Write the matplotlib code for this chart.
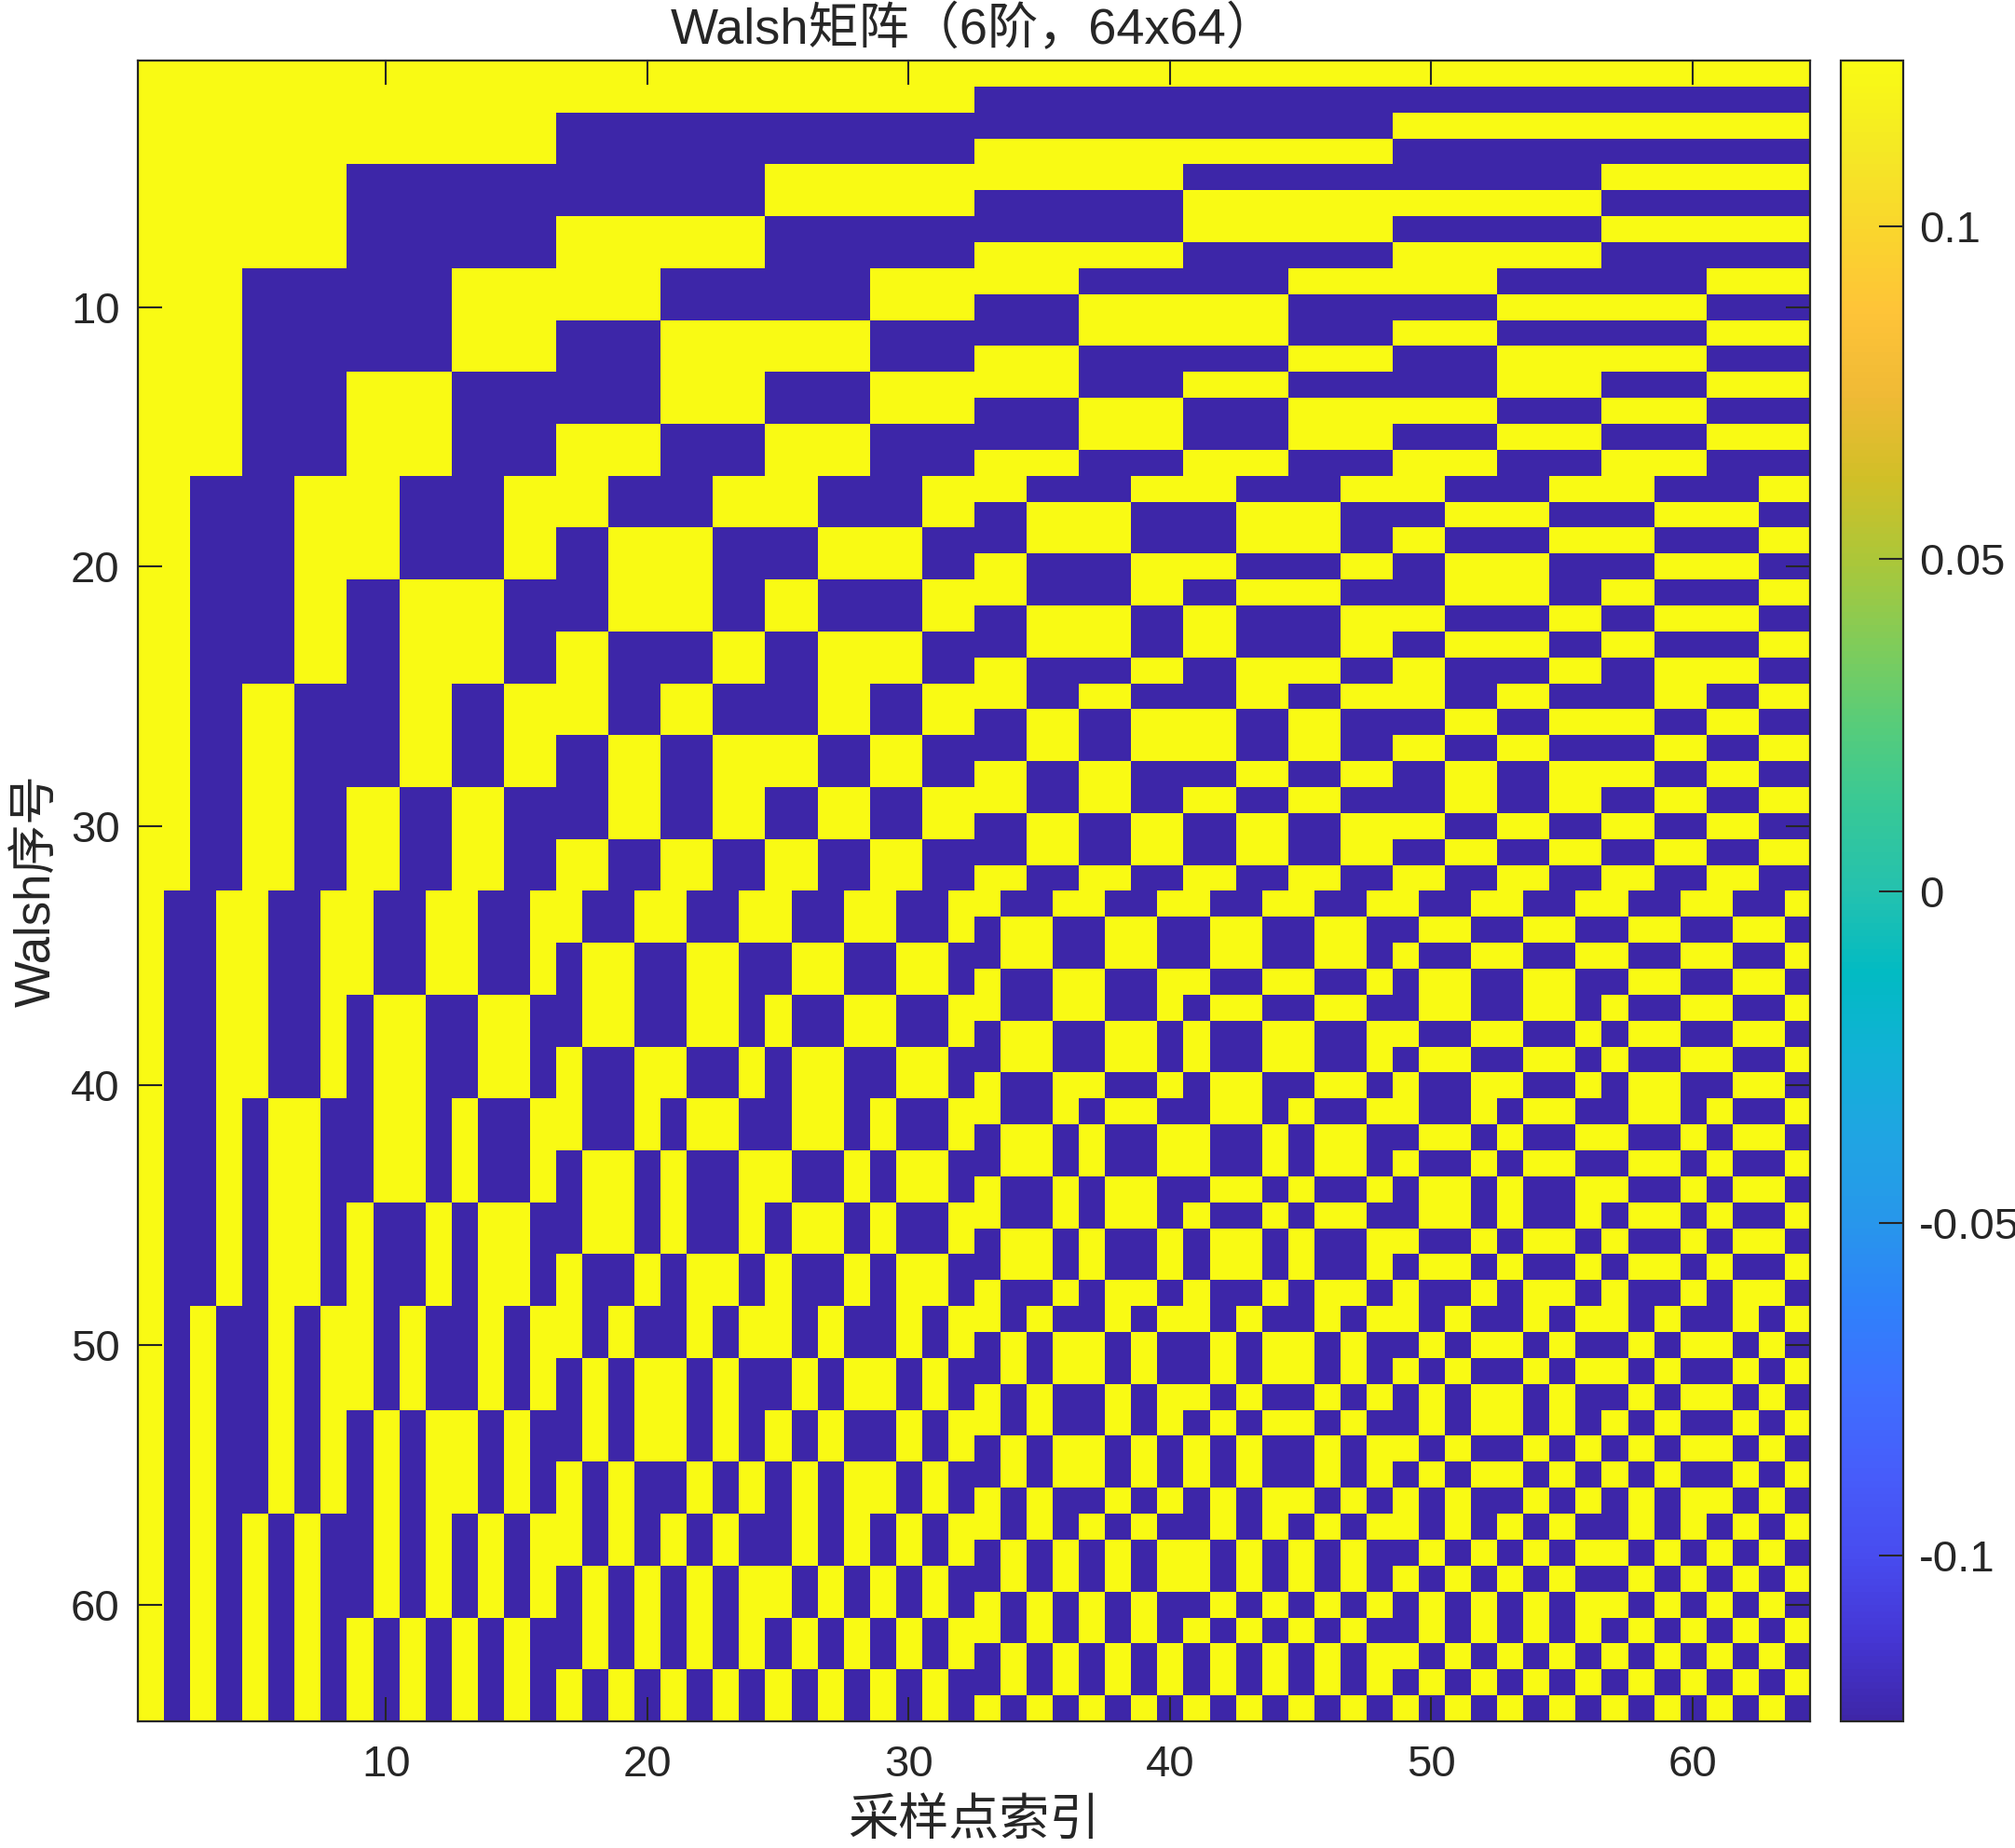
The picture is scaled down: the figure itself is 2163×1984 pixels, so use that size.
import numpy as np
import matplotlib
matplotlib.use('Agg')
import matplotlib.pyplot as plt
from matplotlib.colors import LinearSegmentedColormap

# --- data ---
order = 6                      # Walsh order -> 2**6 = 64 samples
n_points = 2 ** order
amplitude = 1 / np.sqrt(n_points)   # +-0.125
x_ticks = [10, 20, 30, 40, 50, 60]
y_ticks = [10, 20, 30, 40, 50, 60]
cbar_ticks = [-0.1, -0.05, 0, 0.05, 0.1]
cbar_labels = ['-0.1', '-0.05', '0', '0.05', '0.1']
title = 'Walsh矩阵（6阶，64x64）'
xlabel = '采样点索引'
ylabel = 'Walsh序号'

# MATLAB parula (subset of the 64-entry table)
parula_pts = [
    (0.2422, 0.1504, 0.6603), (0.2706, 0.2147, 0.8364), (0.2813, 0.3006, 0.9414),
    (0.2760, 0.3667, 0.9829), (0.2440, 0.4358, 0.9988), (0.1834, 0.5074, 0.9798),
    (0.1540, 0.5902, 0.9218), (0.1248, 0.6459, 0.8883), (0.0689, 0.6948, 0.8394),
    (0.0067, 0.7312, 0.7660), (0.1408, 0.7584, 0.6842), (0.2161, 0.7843, 0.5923),
    (0.3406, 0.8008, 0.4789), (0.5044, 0.7993, 0.3480), (0.6720, 0.7793, 0.2227),
    (0.8203, 0.7498, 0.1535), (0.9393, 0.7288, 0.2100), (0.9970, 0.7659, 0.2199),
    (0.9786, 0.8386, 0.1766), (0.9597, 0.9135, 0.1423), (0.9769, 0.9839, 0.0805),
]

TEXT = '#262626'
plt.rcParams['font.family'] = ['Liberation Sans', 'Noto Sans CJK SC']


def walsh_sequency(order):
    """Sequency-ordered Walsh matrix built by the usual recursion"""
    w = np.array([[1.0]])
    for _ in range(order):
        rows = []
        for j, r in enumerate(w):
            s = 1 if j % 2 == 0 else -1
            rows.append(np.concatenate([r, s * r]))
            rows.append(np.concatenate([r, -s * r]))
        w = np.array(rows)
    return w


walsh = walsh_sequency(order) * amplitude
parula = LinearSegmentedColormap.from_list('parula', parula_pts, N=256)

W, H = 2163, 1984
fig = plt.figure(figsize=(W / 100, H / 100), dpi=100)

ax = fig.add_axes([148 / W, 1 - 1848 / H, 1795 / W, 1783 / H])
im = ax.imshow(walsh, cmap=parula, vmin=-amplitude, vmax=amplitude,
               extent=(0.5, n_points + 0.5, n_points + 0.5, 0.5),
               aspect='auto', interpolation='nearest')

ax.set_xticks(x_ticks)
ax.set_yticks(y_ticks)
ax.tick_params(direction='in', length=19, width=1.5, colors=TEXT,
               labelsize=34, pad=14, top=True, right=True)
ax.tick_params(axis='x', pad=18)
for sp in ax.spines.values():
    sp.set_linewidth(1.6)
    sp.set_color(TEXT)

ax.set_title(title, fontsize=39, color=TEXT, pad=13)
ax.set_xlabel(xlabel, fontsize=39, color=TEXT, labelpad=11)
ax.set_ylabel(ylabel, fontsize=38, color=TEXT, labelpad=8)

cax = fig.add_axes([1976 / W, 1 - 1848 / H, 67 / W, 1783 / H])
cb = fig.colorbar(im, cax=cax)
cb.set_ticks(cbar_ticks)
cb.set_ticklabels(cbar_labels)
cb.ax.tick_params(direction='in', length=19, width=1.5, colors=TEXT,
                  labelsize=34, pad=12)
cb.outline.set_linewidth(1.6)
cb.outline.set_edgecolor(TEXT)

fig.savefig('out.png', dpi=100)
